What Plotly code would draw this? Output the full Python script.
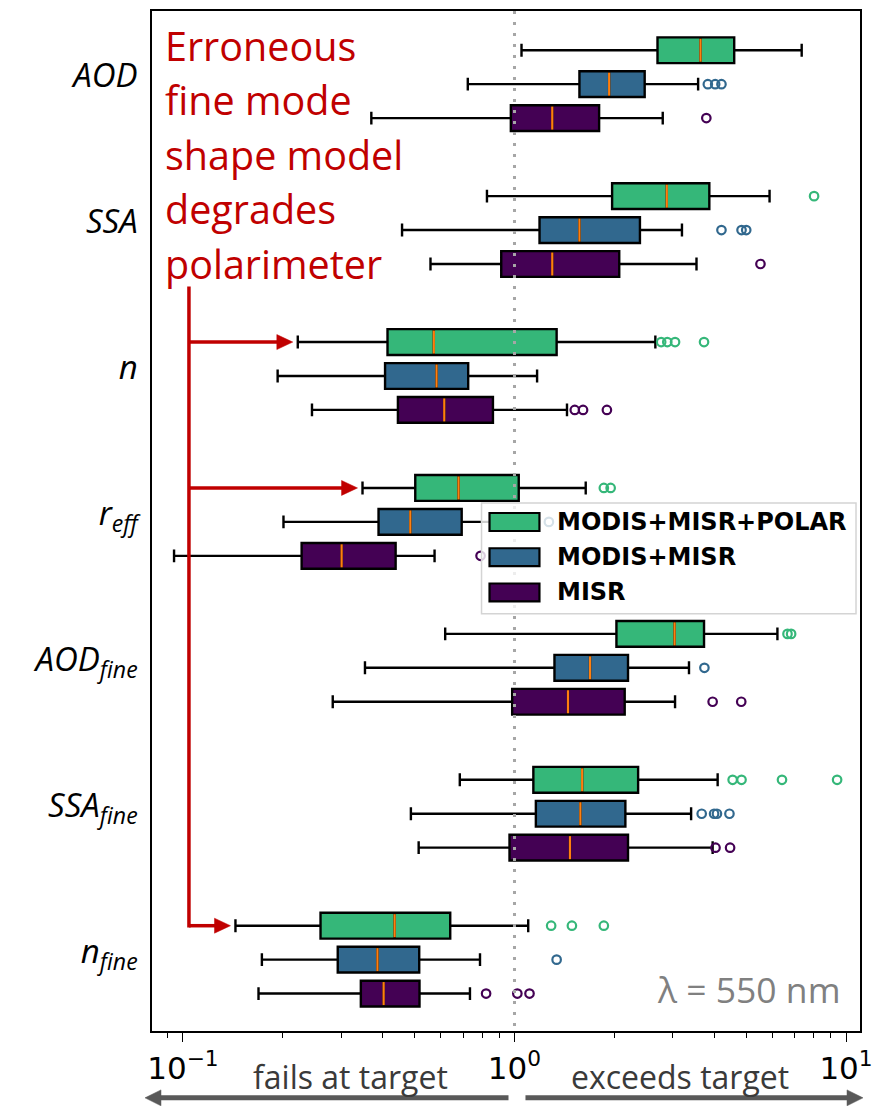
import math
import plotly.graph_objects as go

# ---------------- data ----------------
categories = ["AOD", "SSA", "n", "r_eff", "AOD_fine", "SSA_fine", "n_fine"]
tick_labels = ["AOD", "SSA", "n", "r<sub>eff</sub>", "AOD<sub>fine</sub>",
               "SSA<sub>fine</sub>", "n<sub>fine</sub>"]
series_names = ["MODIS+MISR+POLAR", "MODIS+MISR", "MISR"]
series_colors = ["#35b779", "#31688e", "#440154"]

polar_low = [1.05, 0.826, 0.222, 0.348, 0.618, 0.684, 0.144]
polar_q1 = [2.70, 1.97, 0.414, 0.502, 2.03, 1.14, 0.260]
polar_med = [3.64, 2.88, 0.571, 0.678, 3.04, 1.60, 0.435]
polar_q3 = [4.60, 3.87, 1.34, 1.03, 3.73, 2.36, 0.640]
polar_high = [7.35, 5.88, 2.66, 1.64, 6.21, 4.10, 1.10]
polar_out = [[], [8.01], [2.77, 2.89, 3.05, 3.73], [1.86, 1.95], [6.66, 6.83],
             [4.55, 4.84, 6.41, 9.40], [1.29, 1.49, 1.86]]

mm_low = [0.723, 0.458, 0.193, 0.201, 0.354, 0.487, 0.173]
mm_q1 = [1.57, 1.19, 0.407, 0.389, 1.32, 1.16, 0.293]
mm_med = [1.93, 1.57, 0.582, 0.485, 1.69, 1.58, 0.386]
mm_q3 = [2.47, 2.39, 0.725, 0.693, 2.20, 2.16, 0.516]
mm_high = [3.58, 3.20, 1.17, 0.92, 3.36, 3.41, 0.787]
mm_out = [[3.83, 4.03, 4.21], [4.21, 4.84, 5.00], [], [1.27], [3.74],
          [3.67, 4.00, 4.08, 4.45], [1.34]]

misr_low = [0.370, 0.558, 0.245, 0.094, 0.283, 0.514, 0.169]
misr_q1 = [0.975, 0.912, 0.445, 0.228, 0.984, 0.966, 0.344]
misr_med = [1.30, 1.30, 0.614, 0.301, 1.45, 1.47, 0.403]
misr_q3 = [1.80, 2.07, 0.861, 0.438, 2.15, 2.20, 0.517]
misr_high = [2.80, 3.54, 1.44, 0.574, 3.05, 3.96, 0.734]
misr_out = [[3.79], [5.52], [1.52, 1.61, 1.90], [0.79], [3.96, 4.83],
            [4.04, 4.47], [0.821, 1.02, 1.11]]

x_tick_vals = [0.1, 1, 10]
x_tick_text = ["10<sup>\u22121</sup>", "10<sup>0</sup>", "10<sup>1</sup>"]

red_lines = ["Erroneous", "fine mode", "shape model", "degrades", "polarimeter"]
arrow_targets = ["n", "r_eff", "n_fine"]  # categories the red arrows point to

stats = [
    (polar_low, polar_q1, polar_med, polar_q3, polar_high, polar_out),
    (mm_low, mm_q1, mm_med, mm_q3, mm_high, mm_out),
    (misr_low, misr_q1, misr_med, misr_q3, misr_high, misr_out),
]

# ---------------- layout helpers ----------------
GROUP_STEP = 4.3
BOX_W = 0.76
PL, PR, PT, PB = 152, 861, 9, 1031
X0_LOG = -(515 - PL) / 332.0
X1_LOG = (PR - 515) / 332.0
Y_TOP = (PT - 82.3) / 34.0
Y_BOT = (PB - 82.3) / 34.0


def pos(g, s):
    return g * GROUP_STEP + (s - 1)


def pxx(px):
    return (px - PL) / (PR - PL)


def pxy(py):
    return (PB - py) / (PB - PT)


def logx_to_paper(v):
    return (math.log10(v) - X0_LOG) / (X1_LOG - X0_LOG)


def y_to_paper(yv):
    return (Y_BOT - yv) / (Y_BOT - Y_TOP)


fig = go.Figure()

for s, (low, q1, med, q3, high, outs) in enumerate(stats):
    ys = [pos(g, s) for g in range(len(categories))]
    fig.add_trace(go.Box(
        y=ys, q1=q1, median=med, q3=q3, lowerfence=low, upperfence=high,
        orientation="h", width=BOX_W, whiskerwidth=0.5,
        fillcolor=series_colors[s], line=dict(color="black", width=2.4),
        boxpoints=False, showlegend=False, name=series_names[s]))
    # orange medians
    mx, my = [], []
    for g, m in enumerate(med):
        mx += [m, m, None]
        my += [ys[g] - BOX_W / 2 + 0.04, ys[g] + BOX_W / 2 - 0.04, None]
    fig.add_trace(go.Scatter(x=mx, y=my, mode="lines",
                             line=dict(color="#ff7f0e", width=2.2),
                             showlegend=False, hoverinfo="skip"))
    # outliers
    ox, oy = [], []
    for g, lst in enumerate(outs):
        for v in lst:
            ox.append(v)
            oy.append(ys[g])
    fig.add_trace(go.Scatter(x=ox, y=oy, mode="markers",
                             marker=dict(symbol="circle-open", size=8.5,
                                         color=series_colors[s],
                                         line=dict(width=2.2, color=series_colors[s])),
                             showlegend=False))

# dotted reference line at 1
fig.add_trace(go.Scatter(x=[1, 1], y=[Y_TOP, Y_BOT], mode="lines",
                         line=dict(color="#a6a6a6", width=3, dash="3px,8px"),
                         showlegend=False, hoverinfo="skip"))

shapes = []
annotations = []

# legend (manual, semi-transparent)
shapes.append(dict(type="rect", xref="paper", yref="paper",
                   x0=pxx(482), x1=pxx(857), y0=pxy(613), y1=pxy(502),
                   fillcolor="rgba(255,255,255,0.8)",
                   line=dict(color="#d4d4d4", width=1.5), layer="above"))
for i, (nm, col) in enumerate(zip(series_names, series_colors)):
    cy = 521 + i * 35.3
    shapes.append(dict(type="rect", xref="paper", yref="paper",
                       x0=pxx(490), x1=pxx(540), y0=pxy(cy + 9), y1=pxy(cy - 9),
                       fillcolor=col, line=dict(color="black", width=2.2),
                       layer="above"))
    annotations.append(dict(text="<b>" + nm + "</b>", xref="paper", yref="paper",
                            x=pxx(556), y=pxy(cy), xanchor="left", yanchor="middle",
                            showarrow=False,
                            font=dict(family="DejaVu Sans", size=24, color="black")))

# red annotation text
for i, line in enumerate(red_lines):
    base = 57 + i * 54.6
    annotations.append(dict(text=line, xref="paper", yref="paper",
                            x=pxx(163), y=pxy(base - 13), xanchor="left",
                            yanchor="middle", showarrow=False,
                            font=dict(family="Open Sans", size=39.5, color="#c00000")))

RED = "#c00000"


def arrow_shapes(x_tail, x_tip, y, width, color, head_len, head_half):
    """Horizontal arrow in paper coords (pixels converted)."""
    out = []
    direction = 1 if x_tip > x_tail else -1
    base = x_tip - direction * head_len
    out.append(dict(type="line", xref="paper", yref="paper",
                    x0=pxx(x_tail), x1=pxx(base + direction * 1), y0=pxy(y), y1=pxy(y),
                    line=dict(color=color, width=width), layer="above"))
    path = "M {:.5f},{:.5f} L {:.5f},{:.5f} L {:.5f},{:.5f} Z".format(
        pxx(x_tip), pxy(y), pxx(base), pxy(y - head_half), pxx(base), pxy(y + head_half))
    out.append(dict(type="path", xref="paper", yref="paper", path=path,
                    fillcolor=color, line=dict(color=color, width=0.5), layer="above"))
    return out


# red vertical connector and arrows
tail_px = 189
last_y = pos(categories.index(arrow_targets[-1]), 0)
shapes.append(dict(type="line", xref="paper", yref="paper",
                   x0=pxx(tail_px), x1=pxx(tail_px), y0=pxy(285),
                   y1=y_to_paper(last_y) - 0.0017,
                   line=dict(color=RED, width=3.5), layer="above"))
for cat in arrow_targets:
    g = categories.index(cat)
    yv = pos(g, 0)
    tip_paper = logx_to_paper(polar_low[g])
    tip_px = PL + tip_paper * (PR - PL) - 5
    y_px = PB - y_to_paper(yv) * (PB - PT)
    shapes += arrow_shapes(tail_px, tip_px, y_px, 3.5, RED, 16, 7.5)

# wavelength label
annotations.append(dict(text="\u03bb = 550 nm", xref="paper", yref="paper",
                        x=pxx(844), y=pxy(989), xanchor="right", yanchor="middle",
                        showarrow=False,
                        font=dict(family="Open Sans", size=35.5, color="#808080")))

# bottom text + arrows
annotations.append(dict(text="fails at target", xref="paper", yref="paper",
                        x=pxx(351), y=pxy(1077), xanchor="center", yanchor="middle",
                        showarrow=False,
                        font=dict(family="Open Sans", size=32, color="#3a3a3a")))
annotations.append(dict(text="exceeds target", xref="paper", yref="paper",
                        x=pxx(681), y=pxy(1077), xanchor="center", yanchor="middle",
                        showarrow=False,
                        font=dict(family="Open Sans", size=32, color="#3a3a3a")))
GRAY = "#595959"
shapes += arrow_shapes(509, 145, 1098, 5, GRAY, 16, 8)
shapes += arrow_shapes(526, 864, 1098, 5, GRAY, 16, 8)

minor_vals = [m * 10 ** k for k in (-2, -1, 0, 1) for m in range(2, 10)]

fig.update_layout(
    width=882, height=1106,
    margin=dict(l=PL, r=882 - PR, t=PT, b=1106 - PB, pad=0),
    plot_bgcolor="white", paper_bgcolor="white",
    shapes=shapes, annotations=annotations,
    showlegend=False,
    xaxis=dict(type="log", range=[X0_LOG, X1_LOG], showgrid=False, zeroline=False,
               showline=True, mirror=True, linecolor="black", linewidth=1.5,
               ticks="outside", ticklen=9, tickwidth=1.3, tickcolor="black",
               tickvals=x_tick_vals, ticktext=x_tick_text,
               tickfont=dict(family="DejaVu Sans", size=31, color="black"),
               ticklabelstandoff=0,
               minor=dict(ticks="outside", ticklen=5, tickwidth=1.1,
                          tickcolor="black", tickvals=minor_vals, showgrid=False)),
    yaxis=dict(range=[Y_BOT, Y_TOP], showgrid=False, zeroline=False,
               showline=True, mirror=True, linecolor="black", linewidth=1.5,
               ticks="", tickvals=[g * GROUP_STEP - 0.25 for g in range(len(categories))],
               ticktext=tick_labels, ticklabelstandoff=6,
               tickfont=dict(family="Open Sans", size=33, color="black", style="italic")),
)

fig.write_html("out.html")
